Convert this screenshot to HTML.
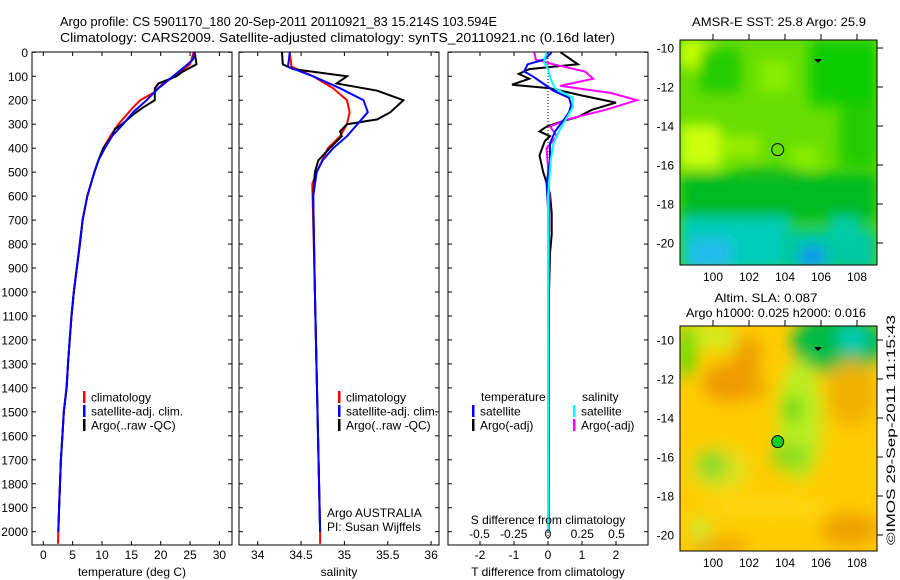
<!DOCTYPE html>
<html><head><meta charset="utf-8"><style>
html,body{margin:0;padding:0;background:#fff;}
svg{display:block;font-family:"Liberation Sans",sans-serif;}
text{fill:#000;}
</style></head><body>
<svg id="fig" width="900" height="580" viewBox="0 0 900 580">
<defs>
<filter id="blur1" x="-20%" y="-20%" width="140%" height="140%"><feGaussianBlur stdDeviation="6"/></filter>
<filter id="blur2" x="-20%" y="-20%" width="140%" height="140%"><feGaussianBlur stdDeviation="8"/></filter>
<clipPath id="cm1"><rect x="680" y="40" width="197" height="225"/></clipPath>
<clipPath id="cm2"><rect x="680" y="326" width="197" height="225"/></clipPath>
</defs>
<text x="60" y="26" font-size="13" textLength="437" lengthAdjust="spacingAndGlyphs">Argo profile: CS 5901170_180 20-Sep-2011 20110921_83 15.214S 103.594E</text>
<text x="60" y="42" font-size="13" textLength="555" lengthAdjust="spacingAndGlyphs">Climatology: CARS2009. Satellite-adjusted climatology: synTS_20110921.nc (0.16d later)</text>

<g id="p1"></g>
<g id="p2"></g>
<g id="p3"></g>

<!-- SST map -->
<g>
<text x="779" y="26" font-size="12" text-anchor="middle" textLength="174" lengthAdjust="spacingAndGlyphs">AMSR-E SST: 25.8 Argo: 25.9</text>
<g clip-path="url(#cm1)">
<rect x="680" y="40" width="197" height="225" fill="#66dd00"/>
<g filter="url(#blur1)" transform="translate(0,40) scale(1,1.087) translate(0,-32)">
<rect x="680" y="32" width="30" height="25" fill="#ccff00"/>
<rect x="700" y="40" width="40" height="40" fill="#22cc00"/>
<rect x="760" y="50" width="30" height="30" fill="#88ee00"/>
<rect x="810" y="32" width="67" height="60" fill="#11cc00"/>
<rect x="840" y="90" width="37" height="60" fill="#22cc00"/>
<rect x="680" y="110" width="40" height="40" fill="#ccff11"/>
<rect x="720" y="120" width="40" height="20" fill="#99ee00"/>
<rect x="790" y="130" width="30" height="20" fill="#88ee00"/>
<rect x="680" y="155" width="197" height="45" fill="#00bb22"/>
<rect x="740" y="150" width="60" height="15" fill="#11bb22"/>
<rect x="680" y="195" width="110" height="50" fill="#00ccbb"/>
<rect x="780" y="205" width="97" height="40" fill="#00c8a0"/>
<rect x="690" y="215" width="40" height="30" fill="#22bbee"/>
<rect x="800" y="222" width="25" height="20" fill="#1199ee"/>
<rect x="830" y="195" width="30" height="20" fill="#00ccaa"/>
</g>
</g>
<rect x="680" y="40" width="197" height="225" fill="none" stroke="#000" stroke-width="1"/>
<g id="m1axes"></g>
<polygon points="814,59 822,59 818,63" fill="#000"/>
<circle id="c1" r="6" fill="none" stroke="#000" stroke-width="1"/>
</g>

<!-- SLA map -->
<g>
<text x="766" y="302" font-size="12" text-anchor="middle" textLength="103" lengthAdjust="spacingAndGlyphs">Altim. SLA: 0.087</text>
<text x="776" y="317" font-size="12" text-anchor="middle" textLength="180" lengthAdjust="spacingAndGlyphs">Argo h1000: 0.025 h2000: 0.016</text>
<g clip-path="url(#cm2)">
<rect x="680" y="326" width="197" height="225" fill="#ffcc00"/>
<g filter="url(#blur2)" transform="translate(0,326) scale(1,1.087) translate(0,-293)">
<rect x="680" y="293" width="14" height="45" fill="#44dd00"/>
<rect x="694" y="293" width="40" height="20" fill="#ccee22"/>
<ellipse cx="730" cy="345" rx="28" ry="18" fill="#ee9900"/>
<ellipse cx="748" cy="320" rx="14" ry="18" fill="#ee9f00"/>
<ellipse cx="758" cy="350" rx="10" ry="10" fill="#eea500"/>
<ellipse cx="840" cy="308" rx="48" ry="28" fill="#00bb44"/>
<ellipse cx="853" cy="305" rx="16" ry="12" fill="#00ccbb"/>
<ellipse cx="800" cy="380" rx="22" ry="55" fill="#bbee22"/>
<ellipse cx="793" cy="370" rx="7" ry="12" fill="#11cc11"/>
<ellipse cx="790" cy="413" rx="20" ry="12" fill="#88dd22"/>
<ellipse cx="712" cy="421" rx="15" ry="12" fill="#11bb22"/>
<ellipse cx="720" cy="425" rx="30" ry="20" fill="#ccee33" opacity="0.6"/>
<ellipse cx="852" cy="355" rx="25" ry="30" fill="#f0b000"/>
<ellipse cx="850" cy="480" rx="30" ry="15" fill="#eea000"/>
<ellipse cx="720" cy="497" rx="30" ry="10" fill="#eeaa00"/>
<ellipse cx="700" cy="480" rx="10" ry="12" fill="#ccee33"/>
<ellipse cx="770" cy="460" rx="60" ry="6" fill="#ffdd22"/>
</g>
</g>
<rect x="680" y="326" width="197" height="225" fill="none" stroke="#000" stroke-width="1"/>
<g id="m2axes"></g>
<polygon points="814,347 822,347 818,351" fill="#000"/>
<circle id="c2" r="6" fill="#11cc22" stroke="#000" stroke-width="1"/>
</g>
<text transform="translate(895,545) rotate(-90)" font-size="12" textLength="230" lengthAdjust="spacingAndGlyphs">©IMOS 29-Sep-2011 11:15:43</text>
</svg>
<script>
// ---- data ----
var depthTicks=[0,100,200,300,400,500,600,700,800,900,1000,1100,1200,1300,1400,1500,1600,1700,1800,1900,2000];
var tempTicks=[0,5,10,15,20,25,30];
var salTicks=[34,34.5,35,35.5,36];
var salTickLabels=["34","34.5","35","35.5","36"];
var tdTicks=[-2,-1,0,1,2];
var sdTicks=[-0.5,-0.25,0,0.25,0.5];
var sdTickLabels=["-0.5","-0.25","0","0.25","0.5"];

var tBlackDepth=[0,50,80,100,130,150,180,200,230,260,300,320,350,400,450,500,600,700,800,900,1000,1100,1200,1300,1400,1500,1600,1700,1800,1900,2000];
var tBlack=[25.8,26.1,23.8,22.7,19.6,19.0,19.0,19.0,17.0,15.3,13.4,12.2,11.7,10.2,9.4,8.7,7.5,6.7,6.25,5.7,5.2,4.8,4.5,4.2,3.98,3.5,3.25,3.0,2.85,2.7,2.55];
var tRedDepth=[0,50,100,130,170,200,230,300,350,400,450,500,600,700,800,900,1000,1100,1200,1300,1400,1500,1600,1700,1800,1900,2000,2050];
var tRed=[25.6,25.0,22.4,20.4,18.7,16.5,15.3,12.8,11.4,10.2,9.4,8.7,7.5,6.7,6.2,5.7,5.2,4.8,4.5,4.2,3.95,3.5,3.25,3.0,2.85,2.7,2.55,2.5];
var tBlueDepth=[0,30,60,100,150,200,250,300,350,400,450,500,600,700,800,900,1000,1100,1200,1300,1400,1500,1600,1700,1800,1900,2000];
var tBlue=[25.8,25.5,24.1,22.1,19.6,17.6,15.3,13.6,11.7,10.5,9.4,8.7,7.5,6.7,6.2,5.7,5.2,4.8,4.5,4.2,3.95,3.5,3.25,3.0,2.85,2.7,2.55];

var sBlackDepth=[0,50,70,100,130,160,200,250,280,300,330,350,400,450,500,600,1000,1500,2000];
var sBlack=[34.28,34.29,34.41,35.03,34.91,35.38,35.68,35.53,35.38,35.03,34.95,34.97,34.83,34.70,34.66,34.64,34.66,34.69,34.72];
var sRedDepth=[0,60,100,150,200,250,300,350,400,500,550,1000,1500,2000,2050];
var sRed=[34.37,34.39,34.64,34.87,35.03,35.06,35.03,34.95,34.81,34.68,34.63,34.66,34.69,34.72,34.72];
var sBlueDepth=[0,60,100,150,200,250,300,350,400,450,500,600,1000,1500,2000];
var sBlue=[34.37,34.35,34.64,34.95,35.22,35.27,35.15,35.03,34.87,34.75,34.68,34.64,34.66,34.69,34.72];

var dTBlackDepth=[0,50,70,90,110,135,150,180,210,240,270,290,310,330,350,370,430,500,590,670,760,840,1000,2000];
var dTBlack=[0.37,0.88,-0.55,-0.86,-0.55,-1.06,0.06,0.98,2.0,1.29,0.88,0.37,-0.04,-0.25,0.06,-0.09,-0.25,-0.14,0.06,0.11,0.11,0.06,0.03,0.02];
var dTBlueDepth=[0,30,50,80,100,130,160,190,220,250,280,330,380,450,550,650,1000,2000];
var dTBlue=[0.11,-0.1,-0.6,-0.7,-0.45,-0.14,0.16,0.62,0.68,0.62,0.47,0.21,0.06,0.06,-0.04,0.0,0.0,0.0];
var dSMagDepth=[0,30,50,80,110,140,170,200,240,280,310,350,400,480,600,1000,2000];
var dSMag=[-0.1,-0.09,0.04,0.27,0.33,0.09,0.46,0.65,0.42,0.14,0.015,0.066,-0.01,0.0,0.01,0.005,0.005];
var dSCyanDepth=[0,40,70,110,150,190,230,270,320,380,450,600,1000,2000];
var dSCyan=[-0.01,-0.03,0.0,0.02,0.05,0.18,0.18,0.14,0.09,0.04,0.02,0.0,0.0,0.0];

var latTicks=[-10,-12,-14,-16,-18,-20];
var lonTicks=[100,102,104,106,108];
var argoLon=103.594, argoLat=-15.214;

// ---- helpers ----
var NS="http://www.w3.org/2000/svg";
var Y0=52.3, YK=0.2397, TOP=52, BOT=545;
function yD(d){return Y0+d*YK;}
function mk(tag,attrs,parent){var e=document.createElementNS(NS,tag);for(var k in attrs)e.setAttribute(k,attrs[k]);parent.appendChild(e);return e;}
function txt(s,x,y,anchor,parent,size){var t=mk('text',{x:x,y:y,'font-size':size||12,'text-anchor':anchor},parent);t.textContent=s;return t;}

function panel(g,L,R,ticksX,labelsX,xf,title,showY){
  var r=mk('rect',{x:L,y:TOP,width:R-L,height:BOT-TOP,fill:'none',stroke:'#000','stroke-width':1},g);
  
  
  depthTicks.forEach(function(d){
    var y=yD(d);
    mk('line',{x1:L,x2:L+4,y1:y,y2:y,stroke:'#000'},g);
    mk('line',{x1:R-4,x2:R,y1:y,y2:y,stroke:'#000'},g);
    if(showY){var t=txt(String(d),28,y+4.5,'end',g,12);
      
      }
  });
  ticksX.forEach(function(v,i){
    var x=xf(v);
    mk('line',{x1:x,x2:x,y1:BOT-4,y2:BOT,stroke:'#000'},g);
    mk('line',{x1:x,x2:x,y1:TOP,y2:TOP+4,stroke:'#000'},g);
    var t=txt(labelsX[i],x,559,'middle',g,12);
    
    
  });
  var at=txt(title,(L+R)/2,576,'middle',g,12);
  
  
}
function line(g,depths,vals,xf,color,w,name){
  var p=depths.map(function(d,i){return xf(vals[i]).toFixed(1)+','+yD(d).toFixed(1);}).join(' ');
  var e=mk('polyline',{points:p,fill:'none',stroke:color,'stroke-width':w,'stroke-linejoin':'miter'},g);
  
  
}
function legend(g,x,y,color,label){
  mk('rect',{x:x,y:y-6,width:2.5,height:12,fill:color},g);
  var t=txt(label,x+8,y+4.5,'start',g,12);
  
  
}

// ---- panel 1: temperature ----
var p1=document.getElementById('p1');
function xT(v){return 43.3+v*5.87;}
panel(p1,32,232,tempTicks,tempTicks.map(String),xT,'temperature (deg C)',true);
line(p1,tRedDepth,tRed,xT,'#ff0000',2,'temp-climatology-line');
line(p1,tBlackDepth,tBlack,xT,'#000000',2,'temp-argo-line');
line(p1,tBlueDepth,tBlue,xT,'#0000ff',2,'temp-satellite-line');
legend(p1,83,397,'#ff0000','climatology');
legend(p1,83,411,'#0000ff','satellite-adj. clim.');
legend(p1,83,425,'#000000','Argo(..raw -QC)');

// ---- panel 2: salinity ----
var p2=document.getElementById('p2');
function xS(v){return 257.7+(v-34)*86.7;}
panel(p2,239,439,salTicks,salTickLabels,xS,'salinity',false);
line(p2,sRedDepth,sRed,xS,'#ff0000',2,'sal-climatology-line');
line(p2,sBlackDepth,sBlack,xS,'#000000',2,'sal-argo-line');
line(p2,sBlueDepth,sBlue,xS,'#0000ff',2,'sal-satellite-line');
legend(p2,338,397,'#ff0000','climatology');
legend(p2,338,411,'#0000ff','satellite-adj. clim.');
legend(p2,338,425,'#000000','Argo(..raw -QC)');
var a1=txt('Argo AUSTRALIA',327,517,'start',p2,12);


var a2=txt('PI: Susan Wijffels',327,531,'start',p2,12);



// ---- panel 3: differences ----
var p3=document.getElementById('p3');
function xDT(v){return 548+v*34;}
function xDS(v){return 548+v*137;}
panel(p3,448,648,tdTicks,tdTicks.map(String),xDT,'T difference from climatology',false);
mk('line',{x1:548,x2:548,y1:TOP,y2:BOT,stroke:'#000','stroke-dasharray':'1,2'},p3);
line(p3,dTBlackDepth,dTBlack,xDT,'#000000',2,'tdiff-argo-line');
line(p3,dSMagDepth,dSMag,xDS,'#ff00ff',2,'sdiff-argo-line');
line(p3,dTBlueDepth,dTBlue,xDT,'#0000ff',2,'tdiff-satellite-line');
line(p3,dSCyanDepth,dSCyan,xDS,'#00ffff',2,'sdiff-satellite-line');
sdTicks.forEach(function(v,i){var t=txt(sdTickLabels[i],xDS(v),538,'middle',p3,12);
  
  });
var st=txt('S difference from climatology',548,524,'middle',p3,12);


var lt1=txt('temperature',481,401,'start',p3,12);


var lt2=txt('salinity',582,401,'start',p3,12);


legend(p3,472,411,'#0000ff','satellite');
legend(p3,472,425,'#000000','Argo(-adj)');
legend(p3,573,411,'#00ffff','satellite');
legend(p3,573,425,'#ff00ff','Argo(-adj)');

// ---- map axes ----
var LON0X=713, LONK=18, LATK=19.5;
function mapAxes(id,top,bottom,lat0y,lonLabelY){
  var g=document.getElementById(id);
  latTicks.forEach(function(v){
    var y=lat0y+(-10-v)*LATK;
    mk('line',{x1:877,x2:883,y1:y,y2:y,stroke:'#000'},g);
    var t=txt(String(v),674,y+4.5,'end',g,12);
    
    
  });
  lonTicks.forEach(function(v){
    var x=LON0X+(v-100)*LONK;
    mk('line',{x1:x,x2:x,y1:top-6,y2:top,stroke:'#000'},g);
    var t=txt(String(v),x,lonLabelY,'middle',g,12);
    
    
  });
}
mapAxes('m1axes',40,265,48,281);
mapAxes('m2axes',326,551,340,567);
var c1=document.getElementById('c1');
c1.setAttribute('cx',LON0X+(argoLon-100)*LONK);c1.setAttribute('cy',48+(-10-argoLat)*LATK);
var c2=document.getElementById('c2');
c2.setAttribute('cx',LON0X+(argoLon-100)*LONK);c2.setAttribute('cy',340+(-10-argoLat)*LATK);
</script>
</body></html>
